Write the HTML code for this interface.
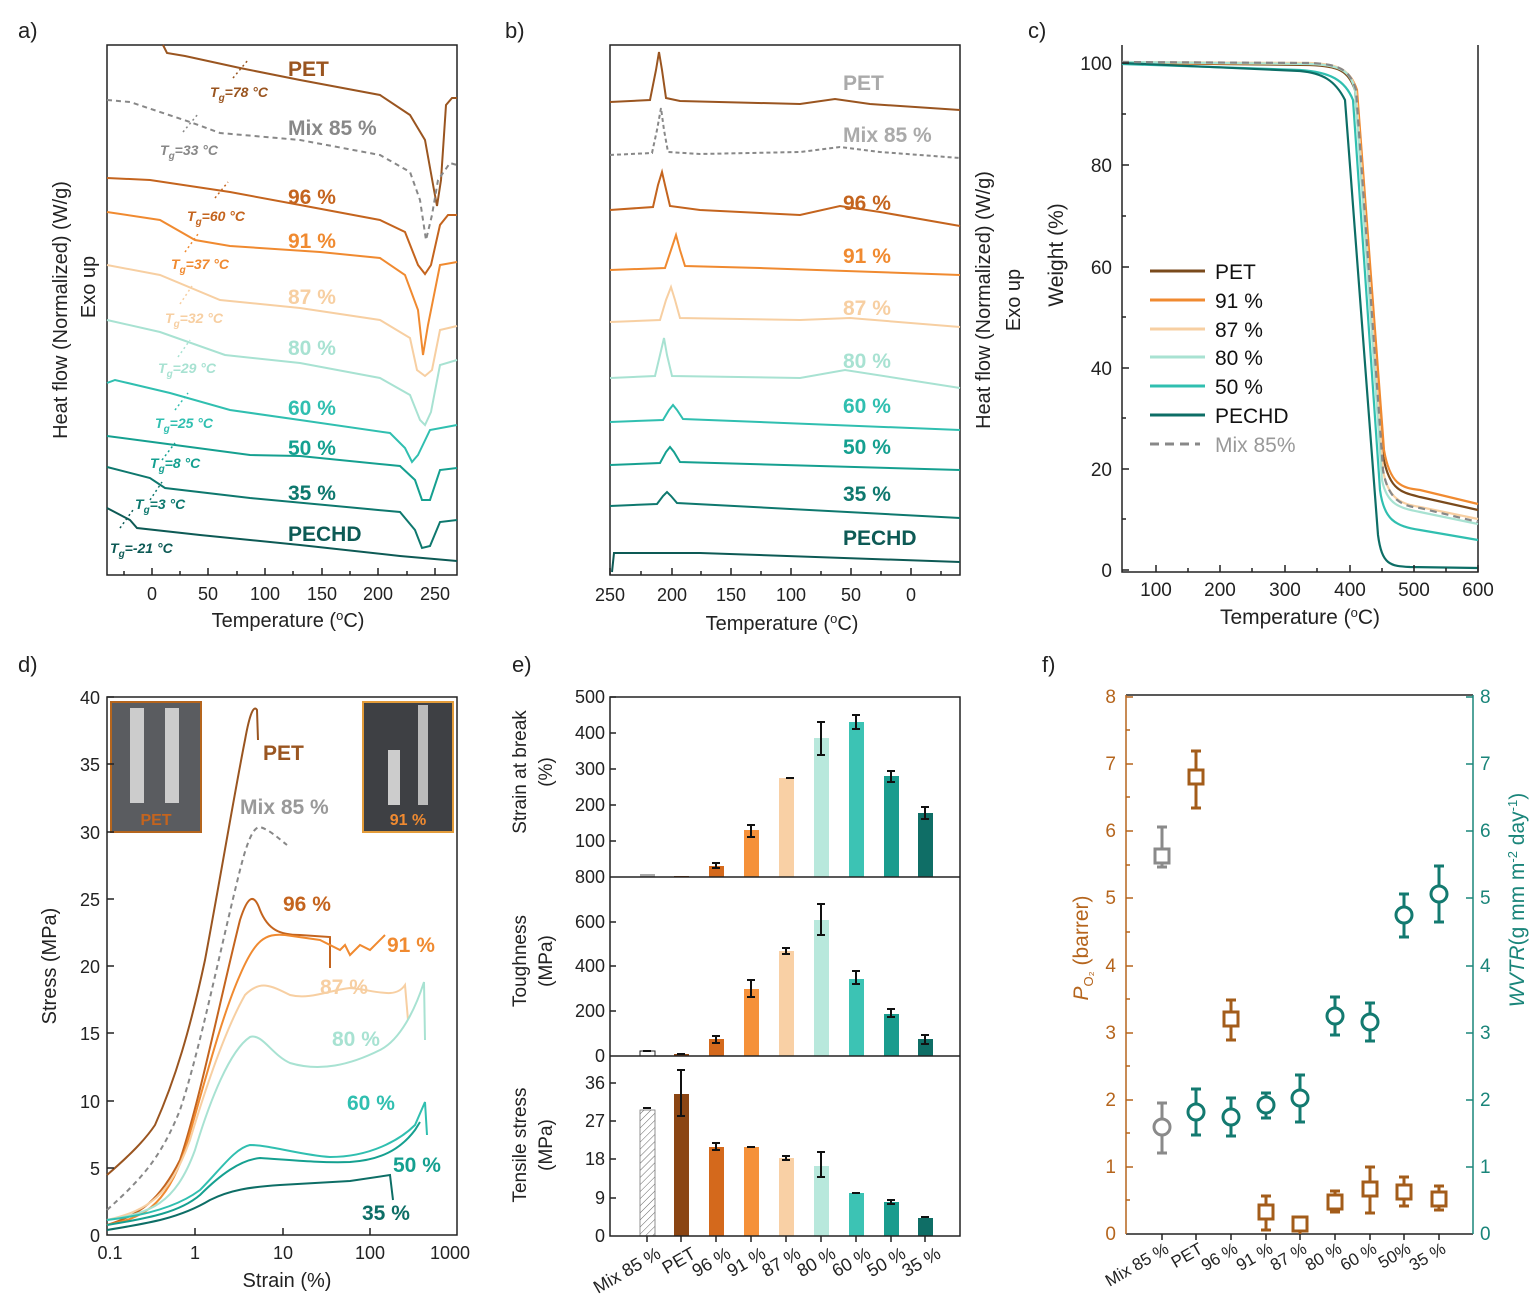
<!DOCTYPE html>
<html><head><meta charset="utf-8"><style>body{margin:0;background:#fff}svg{display:block;font-family:"Liberation Sans",sans-serif}</style></head>
<body>
<svg width="1537" height="1310" viewBox="0 0 1537 1310" xmlns="http://www.w3.org/2000/svg">
<defs><pattern id="h" width="5" height="5" patternUnits="userSpaceOnUse" patternTransform="rotate(45)"><line x1="0" y1="0" x2="0" y2="5" stroke="#666" stroke-width="1"/></pattern></defs>
<g font-size="22" fill="#222"><text x="18" y="38">a)</text><text x="505" y="38">b)</text><text x="1028" y="38">c)</text><text x="18" y="672">d)</text><text x="512" y="672">e)</text><text x="1042" y="672">f)</text></g>

<!-- PANEL A -->
<g fill="none" stroke-width="2">
<rect x="107" y="45" width="350" height="530" stroke="#222" stroke-width="1.5"/>
<path d="M163,45 L167,53 L185,56 L240,68 L300,80 L380,95 L410,115 L425,140 L434,190 L437,206 L441,180 L446,105 L452,98 L457,98" stroke="#9a5520"/>
<path d="M107,100 L130,102 L190,122 L220,133 L300,140 L380,155 L410,172 L420,200 L426,240 L432,215 L438,180 L450,163 L457,165" stroke="#888" stroke-dasharray="5,4"/>
<path d="M107,178 L150,180 L230,192 L300,205 L380,220 L405,232 L418,265 L425,274 L431,265 L440,225 L448,215 L457,215" stroke="#c4641e"/>
<path d="M107,212 L160,220 L195,240 L230,246 L320,252 L380,258 L405,275 L418,310 L423,355 L428,325 L440,265 L457,262" stroke="#f08a30"/>
<path d="M107,265 L160,275 L220,300 L300,308 L380,320 L410,338 L417,370 L425,376 L432,370 L440,330 L457,326" stroke="#f7cfa2"/>
<path d="M107,320 L160,332 L225,355 L300,363 L380,378 L410,395 L420,420 L425,425 L431,412 L440,365 L457,360" stroke="#a8e2d2"/>
<path d="M107,383 L115,380 L170,393 L230,410 L300,420 L390,433 L405,448 L412,462 L418,455 L430,430 L457,425" stroke="#30bfb0"/>
<path d="M107,436 L160,443 L250,455 L300,456 L400,466 L415,480 L422,500 L430,500 L440,470 L457,468" stroke="#15a090"/>
<path d="M107,467 L150,478 L165,488 L250,498 L400,512 L415,530 L422,548 L430,546 L440,522 L457,520" stroke="#0e786e"/>
<path d="M107,508 L130,520 L137,528 L200,535 L300,545 L400,556 L457,561" stroke="#0d5a55"/>
</g>
<g stroke-width="1.5" stroke-dasharray="2,3" fill="none">
<path d="M233,78 L248,60" stroke="#9a5520"/><path d="M183,132 L198,114" stroke="#888"/><path d="M215,198 L228,182" stroke="#c4641e"/><path d="M185,252 L198,234" stroke="#f08a30"/><path d="M180,304 L192,286" stroke="#f7cfa2"/><path d="M178,357 L190,340" stroke="#a8e2d2"/><path d="M175,410 L188,393" stroke="#30bfb0"/><path d="M162,460 L175,443" stroke="#15a090"/><path d="M150,500 L162,482" stroke="#0e786e"/><path d="M120,528 L133,510" stroke="#0d5a55"/>
</g>
<g font-weight="bold" font-size="21">
<text x="288" y="76" fill="#9a5520">PET</text><text x="288" y="135" fill="#888">Mix 85 %</text><text x="288" y="204" fill="#c4641e">96 %</text><text x="288" y="248" fill="#f08a30">91 %</text><text x="288" y="304" fill="#f7cfa2">87 %</text><text x="288" y="355" fill="#a8e2d2">80 %</text><text x="288" y="415" fill="#30bfb0">60 %</text><text x="288" y="455" fill="#15a090">50 %</text><text x="288" y="500" fill="#0e786e">35 %</text><text x="288" y="541" fill="#0d5a55">PECHD</text>
</g>
<g font-weight="bold" font-style="italic" font-size="14">
<text x="210" y="97" fill="#9a5520">T<tspan font-size="10" dy="4">g</tspan><tspan dy="-4">=78 °C</tspan></text>
<text x="160" y="155" fill="#888">T<tspan font-size="10" dy="4">g</tspan><tspan dy="-4">=33 °C</tspan></text>
<text x="187" y="221" fill="#c4641e">T<tspan font-size="10" dy="4">g</tspan><tspan dy="-4">=60 °C</tspan></text>
<text x="171" y="269" fill="#f08a30">T<tspan font-size="10" dy="4">g</tspan><tspan dy="-4">=37 °C</tspan></text>
<text x="165" y="323" fill="#f7cfa2">T<tspan font-size="10" dy="4">g</tspan><tspan dy="-4">=32 °C</tspan></text>
<text x="158" y="373" fill="#a8e2d2">T<tspan font-size="10" dy="4">g</tspan><tspan dy="-4">=29 °C</tspan></text>
<text x="155" y="428" fill="#30bfb0">T<tspan font-size="10" dy="4">g</tspan><tspan dy="-4">=25 °C</tspan></text>
<text x="150" y="468" fill="#15a090">T<tspan font-size="10" dy="4">g</tspan><tspan dy="-4">=8 °C</tspan></text>
<text x="135" y="509" fill="#0e786e">T<tspan font-size="10" dy="4">g</tspan><tspan dy="-4">=3 °C</tspan></text>
<text x="110" y="553" fill="#0d5a55">T<tspan font-size="10" dy="4">g</tspan><tspan dy="-4">=-21 °C</tspan></text>
</g>
<g stroke="#222" stroke-width="1.5"><path d="M152,575v-7M208,575v-7M265,575v-7M322,575v-7M378,575v-7M435,575v-7M124,575v-4M180,575v-4M237,575v-4M293,575v-4M350,575v-4M407,575v-4"/></g>
<g font-size="18" text-anchor="middle" fill="#222"><text x="152" y="600">0</text><text x="208" y="600">50</text><text x="265" y="600">100</text><text x="322" y="600">150</text><text x="378" y="600">200</text><text x="435" y="600">250</text>
<text x="288" y="627" font-size="20">Temperature (<tspan font-size="13" dy="-7">o</tspan><tspan dy="7">C)</tspan></text></g>
<text transform="translate(67,310) rotate(-90)" font-size="20" text-anchor="middle" fill="#222">Heat flow (Normalized) (W/g)</text>
<text transform="translate(95,287) rotate(-90)" font-size="20" text-anchor="middle" fill="#222">Exo up</text>

<!-- PANEL B -->
<rect x="610" y="45" width="350" height="530" fill="none" stroke="#222" stroke-width="1.5"/>
<g fill="none" stroke-width="2">
<path d="M610,102 L650,100 L656,70 L659,52 L662,70 L666,98 L680,101 L800,104 L835,99 L870,104 L960,110" stroke="#9a5520"/>
<path d="M610,155 L652,153 L657,130 L661,108 L664,130 L668,152 L700,154 L800,152 L840,147 L880,152 L960,158" stroke="#888" stroke-dasharray="4,3"/>
<path d="M610,210 L653,207 L658,185 L662,172 L665,185 L670,206 L700,210 L800,215 L840,206 L880,212 L960,226" stroke="#c4641e"/>
<path d="M610,270 L665,268 L671,250 L676,235 L680,250 L685,266 L760,268 L960,275" stroke="#f08a30"/>
<path d="M610,322 L660,320 L666,300 L671,287 L675,300 L680,318 L800,320 L850,318 L960,327" stroke="#f7cfa2"/>
<path d="M610,378 L655,376 L660,355 L664,338 L667,355 L672,376 L800,378 L845,370 L960,388" stroke="#a8e2d2"/>
<path d="M610,422 L663,420 L669,410 L673,405 L677,410 L683,419 L960,430" stroke="#30bfb0"/>
<path d="M610,465 L660,463 L666,452 L670,447 L674,452 L680,462 L960,470" stroke="#15a090"/>
<path d="M610,506 L657,504 L663,496 L667,492 L671,496 L677,503 L960,518" stroke="#0e786e"/>
<path d="M612,572 L614,553 L700,553 L960,562" stroke="#0d5a55"/>
</g>
<g font-weight="bold" font-size="21">
<text x="843" y="90" fill="#aaa">PET</text><text x="843" y="142" fill="#aaa">Mix 85 %</text><text x="843" y="210" fill="#c4641e">96 %</text><text x="843" y="263" fill="#f08a30">91 %</text><text x="843" y="315" fill="#f7cfa2">87 %</text><text x="843" y="368" fill="#a8e2d2">80 %</text><text x="843" y="413" fill="#30bfb0">60 %</text><text x="843" y="454" fill="#15a090">50 %</text><text x="843" y="501" fill="#0e786e">35 %</text><text x="843" y="545" fill="#0d5a55">PECHD</text>
</g>
<g stroke="#222" stroke-width="1.5"><path d="M610,575v-7M672,575v-7M731,575v-7M791,575v-7M851,575v-7M911,575v-7M641,575v-4M701,575v-4M761,575v-4M821,575v-4M881,575v-4M941,575v-4"/></g>
<g font-size="18" text-anchor="middle" fill="#222"><text x="610" y="601">250</text><text x="672" y="601">200</text><text x="731" y="601">150</text><text x="791" y="601">100</text><text x="851" y="601">50</text><text x="911" y="601">0</text>
<text x="782" y="630" font-size="20">Temperature (<tspan font-size="13" dy="-7">o</tspan><tspan dy="7">C)</tspan></text></g>
<text transform="translate(990,300) rotate(-90)" font-size="20" text-anchor="middle" fill="#222">Heat flow (Normalized) (W/g)</text>
<text transform="translate(1020,300) rotate(-90)" font-size="20" text-anchor="middle" fill="#222">Exo up</text>

<!-- PANEL C -->
<path d="M1122,45 V572 H1478 V45" fill="none" stroke="#222" stroke-width="1.5"/>
<g fill="none" stroke-width="2.2">
<path d="M1122,63 L1310,65 C1338,66 1348,70 1355,90 L1382,450 C1388,490 1400,492 1420,497 L1478,510" stroke="#7a4a1c"/>
<path d="M1122,63 L1310,64 C1340,65 1350,70 1357,90 L1384,450 C1390,485 1402,488 1420,490 L1478,504" stroke="#f08a30"/>
<path d="M1122,62 L1310,63 C1340,64 1350,70 1356,90 L1383,470 C1388,500 1402,504 1420,507 L1478,519" stroke="#f7cfa2"/>
<path d="M1122,62 L1310,64 C1340,65 1350,70 1355,90 L1382,480 C1387,505 1400,508 1420,512 L1478,524" stroke="#a8e2d2"/>
<path d="M1122,64 L1300,70 C1330,72 1345,80 1353,100 L1380,490 C1384,520 1395,526 1420,530 L1478,540" stroke="#30bfb0"/>
<path d="M1122,63 L1300,71 C1322,73 1335,80 1345,100 L1378,535 C1382,565 1390,566 1410,567 L1478,568" stroke="#0d6e66"/>
<path d="M1122,62 L1310,63 C1340,64 1350,70 1356,90 L1383,470 C1388,500 1402,506 1420,508 L1478,522" stroke="#888" stroke-dasharray="7,5"/>
</g>
<g stroke-width="3"><line x1="1150" y1="271" x2="1205" y2="271" stroke="#7a4a1c"/><line x1="1150" y1="300" x2="1205" y2="300" stroke="#f08a30"/><line x1="1150" y1="329" x2="1205" y2="329" stroke="#f7cfa2"/><line x1="1150" y1="357" x2="1205" y2="357" stroke="#a8e2d2"/><line x1="1150" y1="386" x2="1205" y2="386" stroke="#30bfb0"/><line x1="1150" y1="415" x2="1205" y2="415" stroke="#0d6e66"/><line x1="1150" y1="444" x2="1200" y2="444" stroke="#888" stroke-dasharray="9,6"/></g>
<g font-size="21" fill="#111"><text x="1215" y="279">PET</text><text x="1215" y="308">91 %</text><text x="1215" y="337">87 %</text><text x="1215" y="365">80 %</text><text x="1215" y="394">50 %</text><text x="1215" y="423">PECHD</text><text x="1215" y="452" fill="#999">Mix 85%</text></g>
<g stroke="#222" stroke-width="1.5"><path d="M1156,572v-7M1220,572v-7M1285,572v-7M1350,572v-7M1414,572v-7M1478,572v-7M1188,572v-4M1252,572v-4M1317,572v-4M1382,572v-4M1446,572v-4M1122,63h7M1122,165h7M1122,267h7M1122,368h7M1122,469h7M1122,570h7M1122,114h4M1122,216h4M1122,317h4M1122,418h4M1122,519h4"/></g>
<g font-size="19" fill="#222" text-anchor="middle"><text x="1156" y="596">100</text><text x="1220" y="596">200</text><text x="1285" y="596">300</text><text x="1350" y="596">400</text><text x="1414" y="596">500</text><text x="1478" y="596">600</text>
<text x="1300" y="624" font-size="21">Temperature (<tspan font-size="13" dy="-7">o</tspan><tspan dy="7">C)</tspan></text></g>
<g font-size="19" fill="#222" text-anchor="end"><text x="1112" y="70">100</text><text x="1112" y="172">80</text><text x="1112" y="274">60</text><text x="1112" y="375">40</text><text x="1112" y="476">20</text><text x="1112" y="577">0</text></g>
<text transform="translate(1063,255) rotate(-90)" font-size="21" text-anchor="middle" fill="#222">Weight (%)</text>

<!-- PANEL D -->
<rect x="107" y="697" width="350" height="538" fill="none" stroke="#222" stroke-width="1.5"/>
<g fill="none" stroke-width="2">
<path d="M107,1175 C130,1155 145,1140 155,1125 C175,1080 190,1030 205,960 C220,880 235,790 245,740 C250,712 254,705 257,710 L258,740" stroke="#9a5520"/>
<path d="M107,1210 C140,1180 160,1160 180,1110 C200,1050 220,950 240,870 C248,838 254,827 260,827 C270,830 278,838 287,845" stroke="#888" stroke-dasharray="5,4"/>
<path d="M107,1225 C140,1215 160,1200 180,1160 C200,1100 220,1000 240,920 C248,895 254,893 260,910 C268,930 280,935 300,935 L330,937 L330,968" stroke="#c4641e"/>
<path d="M107,1225 C140,1218 165,1210 185,1150 C200,1100 220,1020 240,975 C255,940 265,933 285,935 L320,940 L340,950 L345,945 L350,955 L360,945 L370,950 L385,935" stroke="#f08a30"/>
<path d="M107,1220 C150,1210 170,1195 190,1140 C205,1090 225,1030 245,995 C260,980 270,985 290,995 C310,1000 330,990 350,988 C375,990 395,1000 405,985 L408,1020" stroke="#f7cfa2"/>
<path d="M107,1220 C150,1213 175,1205 195,1150 C210,1100 230,1050 250,1037 C262,1033 272,1055 290,1063 C320,1072 350,1065 380,1050 C400,1040 415,1010 424,982 L425,1040" stroke="#a8e2d2"/>
<path d="M107,1220 C150,1215 180,1205 200,1190 C220,1170 235,1148 250,1145 C270,1145 300,1155 330,1157 C370,1157 400,1140 415,1125 L425,1102 L427,1135" stroke="#30bfb0"/>
<path d="M107,1225 C150,1218 180,1212 200,1195 C220,1175 240,1160 260,1158 C290,1160 320,1163 350,1162 C380,1160 400,1150 415,1130 L420,1122" stroke="#15a090"/>
<path d="M107,1230 C150,1223 180,1218 210,1200 C230,1190 250,1187 280,1185 L350,1181 L390,1175 L393,1200" stroke="#0d6e66"/>
</g>
<g font-weight="bold" font-size="21">
<text x="263" y="760" fill="#9a5520">PET</text><text x="240" y="814" fill="#999">Mix 85 %</text><text x="283" y="911" fill="#c4641e">96 %</text><text x="387" y="952" fill="#f08a30">91 %</text><text x="320" y="994" fill="#f7cfa2">87 %</text><text x="332" y="1046" fill="#a8e2d2">80 %</text><text x="347" y="1110" fill="#30bfb0">60 %</text><text x="393" y="1172" fill="#15a090">50 %</text><text x="362" y="1220" fill="#0d6e66">35 %</text>
</g>
<rect x="111" y="702" width="90" height="130" fill="#5a5c60" stroke="#b5651d" stroke-width="2"/>
<rect x="130" y="708" width="14" height="95" fill="#ccc"/><rect x="165" y="708" width="14" height="95" fill="#ccc"/>
<text x="156" y="825" font-size="16" font-weight="bold" fill="#c4641e" text-anchor="middle">PET</text>
<rect x="363" y="702" width="90" height="130" fill="#3e4044" stroke="#e39c3a" stroke-width="2"/>
<rect x="388" y="750" width="12" height="55" fill="#ccc"/><rect x="418" y="705" width="10" height="100" fill="#bbb"/>
<text x="408" y="825" font-size="16" font-weight="bold" fill="#f08a30" text-anchor="middle">91 %</text>
<g stroke="#222" stroke-width="1.5"><path d="M195,1235v-7M283,1235v-7M370,1235v-7M107,1168h7M107,1101h7M107,1033h7M107,966h7M107,899h7M107,832h7M107,764h7M107,697h7"/></g>
<g font-size="18" fill="#222" text-anchor="middle"><text x="110" y="1259">0.1</text><text x="195" y="1259">1</text><text x="283" y="1259">10</text><text x="370" y="1259">100</text><text x="450" y="1259">1000</text><text x="287" y="1287" font-size="20">Strain (%)</text></g>
<g font-size="18" fill="#222" text-anchor="end"><text x="100" y="1242">0</text><text x="100" y="1175">5</text><text x="100" y="1108">10</text><text x="100" y="1040">15</text><text x="100" y="973">20</text><text x="100" y="906">25</text><text x="100" y="839">30</text><text x="100" y="771">35</text><text x="100" y="704">40</text></g>
<text transform="translate(56,966) rotate(-90)" font-size="20" text-anchor="middle" fill="#222">Stress (MPa)</text>

<!-- PANEL E -->
<g stroke="none">
<rect x="640" y="874" width="15" height="3" fill="#aaa"/><rect x="674" y="876" width="15" height="1" fill="#8b4513"/><rect x="709" y="866" width="15" height="11" fill="#d4691c"/><rect x="744" y="830" width="15" height="47" fill="#f5913a"/><rect x="779" y="778" width="15" height="99" fill="#f9d0a5"/><rect x="814" y="738" width="15" height="139" fill="#b8e8dc"/><rect x="849" y="722" width="15" height="155" fill="#3cc3b4"/><rect x="884" y="776" width="15" height="101" fill="#1a9c8e"/><rect x="918" y="813" width="15" height="64" fill="#0f6e66"/>
<rect x="640" y="1051" width="15" height="5" fill="#fff" stroke="#222"/><rect x="674" y="1054" width="15" height="2" fill="#8b4513"/><rect x="709" y="1039" width="15" height="17" fill="#d4691c"/><rect x="744" y="989" width="15" height="67" fill="#f5913a"/><rect x="779" y="951" width="15" height="105" fill="#f9d0a5"/><rect x="814" y="920" width="15" height="136" fill="#b8e8dc"/><rect x="849" y="979" width="15" height="77" fill="#3cc3b4"/><rect x="884" y="1014" width="15" height="42" fill="#1a9c8e"/><rect x="918" y="1039" width="15" height="17" fill="#0f6e66"/>
<rect x="640" y="1110" width="15" height="126" fill="url(#h)" stroke="#777" stroke-width="0.8"/><rect x="674" y="1094" width="15" height="142" fill="#8b4513"/><rect x="709" y="1147" width="15" height="89" fill="#d4691c"/><rect x="744" y="1147" width="15" height="89" fill="#f5913a"/><rect x="779" y="1158" width="15" height="78" fill="#f9d0a5"/><rect x="814" y="1166" width="15" height="70" fill="#b8e8dc"/><rect x="849" y="1193" width="15" height="43" fill="#3cc3b4"/><rect x="884" y="1202" width="15" height="34" fill="#1a9c8e"/><rect x="918" y="1218" width="15" height="18" fill="#0f6e66"/>
</g>
<g fill="none" stroke="#222" stroke-width="1.5"><rect x="610" y="697" width="350" height="539"/><line x1="610" y1="877" x2="960" y2="877"/><line x1="610" y1="1056" x2="960" y2="1056"/></g>
<g stroke="#111" stroke-width="2" fill="none">
<path d="M716,863v5M712,863h8M712,868h8 M751,825v12M747,825h8M747,837h8 M786,778h8 M821,722v33M817,722h8M817,755h8 M856,715v14M852,715h8M852,729h8 M891,771v11M887,771h8M887,782h8 M925,807v12M921,807h8M921,819h8"/>
<path d="M643,1051h8 M677,1054h8 M716,1036v7M712,1036h8M712,1043h8 M751,980v17M747,980h8M747,997h8 M786,948v6M782,948h8M782,954h8 M821,904v31M817,904h8M817,935h8 M856,971v13M852,971h8M852,984h8 M891,1009v8M887,1009h8M887,1017h8 M925,1035v9M921,1035h8M921,1044h8"/>
<path d="M643,1108h8 M681,1070v46M677,1070h8M677,1116h8 M716,1143v7M712,1143h8M712,1150h8 M747,1147h8 M786,1156v4M782,1156h8M782,1160h8 M821,1152v25M817,1152h8M817,1177h8 M852,1193h8 M891,1200v4M887,1200h8M887,1204h8 M921,1217h8"/>
</g>
<g stroke="#222" stroke-width="1.5"><path d="M610,697h6M610,733h6M610,769h6M610,805h6M610,841h6M610,922h6M610,966h6M610,1011h6M610,1083h6M610,1121h6M610,1159h6M610,1198h6M647,1236v6M681,1236v6M716,1236v6M751,1236v6M786,1236v6M821,1236v6M856,1236v6M891,1236v6M925,1236v6"/></g>
<g font-size="18" fill="#222" text-anchor="end"><text x="605" y="703">500</text><text x="605" y="739">400</text><text x="605" y="775">300</text><text x="605" y="811">200</text><text x="605" y="847">100</text><text x="605" y="883">800</text><text x="605" y="928">600</text><text x="605" y="972">400</text><text x="605" y="1017">200</text><text x="605" y="1062">0</text><text x="605" y="1089">36</text><text x="605" y="1127">27</text><text x="605" y="1165">18</text><text x="605" y="1204">9</text><text x="605" y="1242">0</text></g>
<g font-size="18" fill="#222" text-anchor="end">
<text transform="translate(662,1257) rotate(-30)">Mix 85 %</text><text transform="translate(697,1257) rotate(-30)">PET</text><text transform="translate(732,1257) rotate(-30)">96 %</text><text transform="translate(767,1257) rotate(-30)">91 %</text><text transform="translate(802,1257) rotate(-30)">87 %</text><text transform="translate(837,1257) rotate(-30)">80 %</text><text transform="translate(872,1257) rotate(-30)">60 %</text><text transform="translate(907,1257) rotate(-30)">50 %</text><text transform="translate(942,1257) rotate(-30)">35 %</text></g>
<g font-size="19" fill="#222" text-anchor="middle">
<text transform="translate(526,772) rotate(-90)">Strain at break</text><text transform="translate(552,772) rotate(-90)">(%)</text>
<text transform="translate(526,961) rotate(-90)">Toughness</text><text transform="translate(552,961) rotate(-90)">(MPa)</text>
<text transform="translate(526,1145) rotate(-90)">Tensile stress</text><text transform="translate(552,1145) rotate(-90)">(MPa)</text></g>

<!-- PANEL F -->
<line x1="1126" y1="695" x2="1473" y2="695" stroke="#222" stroke-width="1.5"/>
<line x1="1126" y1="1234" x2="1473" y2="1234" stroke="#222" stroke-width="1.5"/>
<line x1="1126" y1="695" x2="1126" y2="1234" stroke="#b5651d" stroke-width="1.5"/>
<line x1="1473" y1="695" x2="1473" y2="1234" stroke="#1a857a" stroke-width="1.5"/>
<g stroke="#b5651d" stroke-width="1.5"><path d="M1126,697h7M1126,764h7M1126,831h7M1126,898h7M1126,966h7M1126,1033h7M1126,1100h7M1126,1167h7M1126,730h4M1126,797h4M1126,865h4M1126,932h4M1126,999h4M1126,1066h4M1126,1133h4M1126,1200h4"/></g>
<g stroke="#1a857a" stroke-width="1.5"><path d="M1473,697h-7M1473,764h-7M1473,831h-7M1473,898h-7M1473,966h-7M1473,1033h-7M1473,1100h-7M1473,1167h-7"/></g>
<g stroke="#222" stroke-width="1.5"><path d="M1162,1234v6M1196,1234v6M1231,1234v6M1266,1234v6M1300,1234v6M1335,1234v6M1370,1234v6M1404,1234v6M1439,1234v6"/></g>
<g font-size="19" fill="#b5651d" text-anchor="end"><text x="1116" y="703">8</text><text x="1116" y="770">7</text><text x="1116" y="837">6</text><text x="1116" y="904">5</text><text x="1116" y="972">4</text><text x="1116" y="1039">3</text><text x="1116" y="1106">2</text><text x="1116" y="1173">1</text><text x="1116" y="1240">0</text></g>
<g font-size="19" fill="#1a857a"><text x="1480" y="703">8</text><text x="1480" y="770">7</text><text x="1480" y="837">6</text><text x="1480" y="904">5</text><text x="1480" y="972">4</text><text x="1480" y="1039">3</text><text x="1480" y="1106">2</text><text x="1480" y="1173">1</text><text x="1480" y="1240">0</text></g>
<text transform="translate(1088,948) rotate(-90)" font-size="21" text-anchor="middle" fill="#b5651d"><tspan font-style="italic">P</tspan><tspan font-size="13" dy="5">O₂</tspan><tspan dy="-5"> (barrer)</tspan></text>
<text transform="translate(1524,900) rotate(-90)" font-size="21" text-anchor="middle" fill="#1a857a"><tspan font-style="italic">WVTR</tspan>(g mm m<tspan font-size="13" dy="-7">-2</tspan><tspan dy="7"> day</tspan><tspan font-size="13" dy="-7">-1</tspan><tspan dy="7">)</tspan></text>
<g fill="none" stroke-width="3">
<g stroke="#8a8a8a"><path d="M1162,827v40M1157,827h10M1157,867h10"/><rect x="1155" y="849" width="14" height="14" fill="#fff"/><path d="M1162,1103v50M1157,1103h10M1157,1153h10"/><circle cx="1162" cy="1127" r="8" fill="#fff"/></g>
<g stroke="#a35c1a">
<path d="M1196,751v57M1191,751h10M1191,808h10"/><rect x="1189" y="770" width="14" height="14" fill="#fff"/>
<path d="M1231,1000v40M1226,1000h10M1226,1040h10"/><rect x="1224" y="1012" width="14" height="14" fill="#fff"/>
<path d="M1266,1196v34M1261,1196h10M1261,1230h10"/><rect x="1259" y="1205" width="14" height="14" fill="#fff"/>
<path d="M1300,1222v12"/><rect x="1293" y="1217" width="14" height="14" fill="#fff"/>
<path d="M1335,1191v21M1330,1191h10M1330,1212h10"/><rect x="1328" y="1195" width="14" height="14" fill="#fff"/>
<path d="M1370,1167v46M1365,1167h10M1365,1213h10"/><rect x="1363" y="1182" width="14" height="14" fill="#fff"/>
<path d="M1404,1177v29M1399,1177h10M1399,1206h10"/><rect x="1397" y="1185" width="14" height="14" fill="#fff"/>
<path d="M1439,1186v24M1434,1186h10M1434,1210h10"/><rect x="1432" y="1192" width="14" height="14" fill="#fff"/>
</g>
<g stroke="#137a70">
<path d="M1196,1089v46M1191,1089h10M1191,1135h10"/><circle cx="1196" cy="1112" r="8" fill="#fff"/>
<path d="M1231,1098v38M1226,1098h10M1226,1136h10"/><circle cx="1231" cy="1117" r="8" fill="#fff"/>
<path d="M1266,1093v25M1261,1093h10M1261,1118h10"/><circle cx="1266" cy="1105" r="8" fill="#fff"/>
<path d="M1300,1075v47M1295,1075h10M1295,1122h10"/><circle cx="1300" cy="1098" r="8" fill="#fff"/>
<path d="M1335,997v38M1330,997h10M1330,1035h10"/><circle cx="1335" cy="1016" r="8" fill="#fff"/>
<path d="M1370,1003v38M1365,1003h10M1365,1041h10"/><circle cx="1370" cy="1022" r="8" fill="#fff"/>
<path d="M1404,894v43M1399,894h10M1399,937h10"/><circle cx="1404" cy="915" r="8" fill="#fff"/>
<path d="M1439,866v56M1434,866h10M1434,922h10"/><circle cx="1439" cy="894" r="8" fill="#fff"/>
</g></g>
<g font-size="17" fill="#222" text-anchor="end">
<text transform="translate(1170,1252) rotate(-30)">Mix 85 %</text><text transform="translate(1204,1252) rotate(-30)">PET</text><text transform="translate(1239,1252) rotate(-30)">96 %</text><text transform="translate(1274,1252) rotate(-30)">91 %</text><text transform="translate(1308,1252) rotate(-30)">87 %</text><text transform="translate(1343,1252) rotate(-30)">80 %</text><text transform="translate(1378,1252) rotate(-30)">60 %</text><text transform="translate(1412,1252) rotate(-30)">50%</text><text transform="translate(1447,1252) rotate(-30)">35 %</text></g>
</svg>
</body></html>
